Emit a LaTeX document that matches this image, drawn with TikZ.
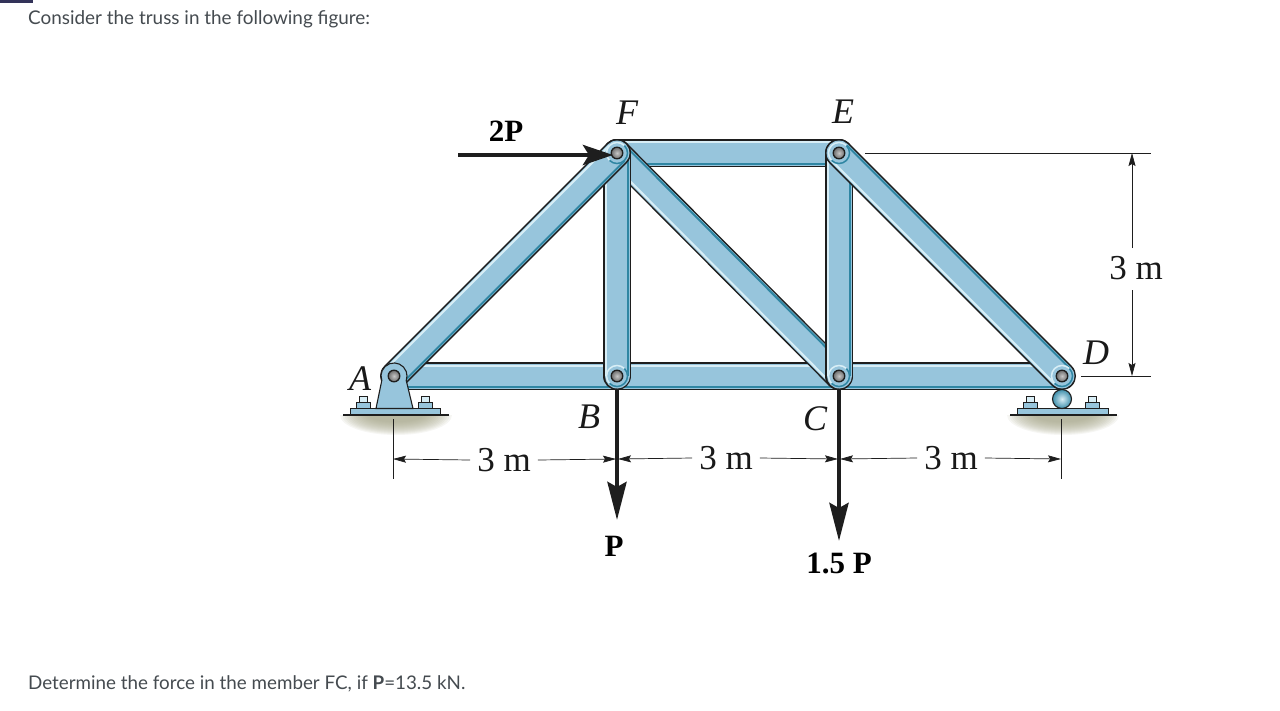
\documentclass[tikz,border=0pt]{standalone}
\usepackage{fontspec}
\setmainfont{Liberation Serif}
\newfontfamily\uifont[Ligatures=Common]{Lato}
\usetikzlibrary{arrows.meta,calc}
\definecolor{steel}{HTML}{97C5DC}
\definecolor{lite}{HTML}{D8EEF6}
\definecolor{teal2}{HTML}{2F86A3}
\definecolor{edge}{HTML}{1E1E1E}
\definecolor{uitext}{HTML}{454B50}
\definecolor{shadowc}{HTML}{A8A88C}
\newcommand{\member}[2]{%
  \draw[edge,line width=28pt,line cap=round] (#1) -- (#2);
  \draw[steel,line width=25pt,line cap=round] (#1) -- (#2);
  \draw[lite,line width=2pt] ($(#1)!10.6pt!90:(#2)$) -- ($(#2)!10.6pt!-90:(#1)$);
  \draw[teal2,line width=2pt] ($(#1)!11pt!-90:(#2)$) -- ($(#2)!11pt!90:(#1)$);
}
\newcommand{\pin}[1]{%
  \fill[steel] (#1) circle (11pt);
  \draw[lite,line width=1.5pt] ($(#1)+(135:10.5)$) arc[start angle=135,end angle=315,radius=10.5];
  \draw[teal2,line width=1.5pt] ($(#1)+(315:10.5)$) arc[start angle=315,end angle=495,radius=10.5];
  \draw[edge,line width=1.3pt,shade,inner color=black!22,outer color=black!58] (#1) circle (5.8pt);
}
\newcommand{\bolt}[1]{%
  \begin{scope}[shift={(#1)}]
    \draw[edge,line width=.8pt,fill=steel] (-7,6) rectangle (7,0);
    \draw[edge,line width=.8pt,fill=lite] (-4,0) rectangle (4,-6);
  \end{scope}
}
\newcommand{\ground}[3]{% centre x, half width, y
  \begin{scope}
    \clip (#1-#2-20,#3) rectangle (#1+#2+20,#3+40);
    \foreach \k in {0,...,13} {
      \fill[shadowc,opacity=.10] (#1,#3) ellipse [x radius=#2-\k*2.2,y radius=20-\k*1.0];
    }
  \end{scope}
}
\tikzset{
  x=1pt,y=-1pt,
  dim/.style={edge,line width=.7pt},
  dimarrow/.style={dim,-{Stealth[length=13pt,width=7pt,inset=2pt]}},
  load/.style={edge,line width=4.5pt,-{Stealth[length=38pt,width=19pt,inset=5pt]}},
  mm/.style={font=\fontsize{35}{35}\selectfont,text=black!90,inner sep=7pt},
  lett/.style={font=\fontsize{36}{36}\selectfont\itshape,text=black!90,inner sep=0pt},
  force/.style={font=\fontsize{31}{31}\selectfont\bfseries,text=black,inner sep=0pt},
  ui/.style={font=\uifont\fontsize{18.8}{20}\selectfont,text=uitext,inner sep=0pt,anchor=west},
  uitop/.style={ui,font=\uifont\fontsize{18.9}{20}\selectfont},
  plate/.style={edge,line width=.9pt,fill=steel},
}
\begin{document}
\begin{tikzpicture}
\useasboundingbox (0,0) rectangle (1280,710);
\fill[white] (0,0) rectangle (1280,710);
\fill[black!75!blue!60!gray] (0,0) rectangle (33,3);

\coordinate (A) at (394,376);
\coordinate (Ac) at (400,376);
\coordinate (B) at (617,376);
\coordinate (C) at (839,376);
\coordinate (D) at (1062,376);
\coordinate (F) at (617,153);
\coordinate (E) at (839,153);

% ground shadows
\ground{396}{56}{415}
\ground{1063}{56}{415}

% members
\draw[edge,line width=28pt] (Ac) -- (D);
\draw[steel,line width=25pt] (Ac) -- (D);
\draw[lite,line width=2pt] (400,365.5) -- (1062,365.5);
\draw[teal2,line width=1.5pt] (400,387) -- (1062,387);
\member{F}{E}
\member{C}{F}
\member{B}{F}
\member{C}{E}
\member{A}{F}
\member{D}{E}

% support A
\draw[plate] (350,408.5) rectangle (440,414.5);
\bolt{363,402}
\bolt{425,402}
\draw[edge,line width=1.1pt,fill=steel] (376,408.5) -- (381.8,380.4) arc[start angle=160,end angle=380,radius=13] -- (413,408.5) -- cycle;
\draw[edge,line width=1.6pt] (343,415) -- (449,415);

% support D
\draw[plate] (1017,408.5) rectangle (1108,414.5);
\bolt{1030,402}
\bolt{1092,402}
\draw[edge,line width=1.1pt,shade,inner color=lite,outer color=teal2!85!steel] (1062,399) circle (9.5pt);
\draw[edge,line width=1.6pt] (1010,415) -- (1117,415);

% loads
\coordinate (Pstart) at (617,389);
\coordinate (Pend) at (617,520);
\coordinate (Qstart) at (839,389);
\coordinate (Qend) at (839,541);
\coordinate (Rstart) at (458,155);
\coordinate (Rend) at (613,155);
\draw[load] (Pstart) -- (Pend);
\draw[load] (Qstart) -- (Qend);

% pins
\pin{B}\pin{C}\pin{D}\pin{E}\pin{F}
\draw[edge,line width=1.3pt,shade,inner color=black!22,outer color=black!58] (A) circle (5.8pt);
\draw[load,-{Stealth[length=30pt,width=20pt,inset=6pt]}] (Rstart) -- (Rend);

% labels
\node[lett] (lA) at (360,379) {A};
\node[lett] (lB) at (589,417) {B};
\node[lett] (lC) at (815,419) {C};
\node[lett] (lD) at (1096,353) {D};
\node[lett] (lE) at (843,112) {E};
\node[lett] (lF) at (627,113) {F};
\node[force] (l2P) at (506,131) {2P};
\node[force] (lP) at (614,546) {P};
\node[force] (l15P) at (839,563) {1.5 P};

% dimensions
\coordinate (a1) at (393,419); \coordinate (a2) at (393,479);
\coordinate (d1) at (1061,419); \coordinate (d2) at (1061,479);
\coordinate (a3) at (393,459); \coordinate (b3) at (616,459);
\coordinate (b4) at (618,459); \coordinate (c3) at (838,459);
\coordinate (c4) at (840,459); \coordinate (d3) at (1061,459);
\coordinate (t1) at (865,153); \coordinate (t2) at (1151,153);
\coordinate (u1) at (1081,376); \coordinate (u2) at (1151,376);
\coordinate (v1) at (1132,153); \coordinate (v2) at (1132,376);
\draw[dim] (a1) -- (a2);
\draw[dim] (d1) -- (d2);
\draw[dim] (t1) -- (t2);
\draw[dim] (u1) -- (u2);
\node[mm] (m1) at (504,460) {3 m};
\node[mm] (m2) at (726,458) {3 m};
\node[mm] (m3) at (951,458) {3 m};
\node[mm] (m4) at (1136,268) {3 m};
\draw[dimarrow] (m1.west) -- (a3);
\draw[dimarrow] (m1.east) -- (b3);
\draw[dimarrow] (m2.west) -- (b4);
\draw[dimarrow] (m2.east) -- (c3);
\draw[dimarrow] (m3.west) -- (c4);
\draw[dimarrow] (m3.east) -- (d3);
\coordinate (m4t) at (1132,248); \coordinate (m4b) at (1132,290);
\draw[dimarrow] (m4t) -- (v1);
\draw[dimarrow] (m4b) -- (v2);

% page text
\node[uitop] (top) at (28,19.5) {Consider the truss in the following figure:};
\node[ui] (bot) at (28,683.5) {Determine the force in the member FC, if {\bfseries P}=13.5 kN.};
\end{tikzpicture}
\end{document}
